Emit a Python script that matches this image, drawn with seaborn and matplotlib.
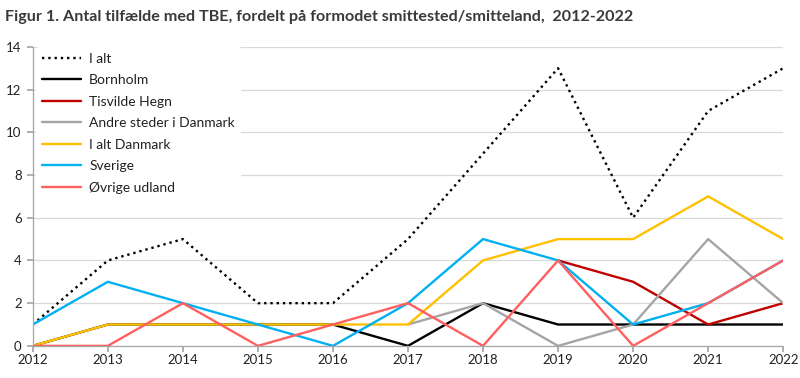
import numpy as np
import pandas as pd
import matplotlib
matplotlib.use("Agg")
import matplotlib.pyplot as plt
import seaborn as sns

years = list(range(2012, 2023))
i_alt = [1, 4, 5, 2, 2, 5, 9, 13, 6, 11, 13]
bornholm = [0, 1, 1, 1, 1, 0, 2, 1, 1, 1, 1]
tisvilde = [np.nan] * 7 + [4, 3, 1, 2]
andre = [np.nan] * 5 + [1, 2, 0, 1, 5, 2]
i_alt_dk = [0, 1, 1, 1, 1, 1, 4, 5, 5, 7, 5]
sverige = [1, 3, 2, 1, 0, 2, 5, 4, 1, 2, 4]
oevrige = [0, 0, 2, 0, 1, 2, 0, 4, 0, 2, 4]

series = [
    ("I alt", i_alt, "black", ":"),
    ("Bornholm", bornholm, "black", "-"),
    ("Tisvilde Hegn", tisvilde, "#C00000", "-"),
    ("Andre steder i Danmark", andre, "#A5A5A5", "-"),
    ("I alt Danmark", i_alt_dk, "#FFC000", "-"),
    ("Sverige", sverige, "#00B0F0", "-"),
    ("Øvrige udland", oevrige, "#FF5F5F", "-"),
]

sns.set_theme(style="white")
plt.rcParams['font.family'] = ['Lato', 'DejaVu Sans']

fig = plt.figure(figsize=(8, 3.78), dpi=100)
ax = fig.add_axes([0.041, 0.085, 0.938, 0.791])

for name, vals, col, ls in series:
    df = pd.DataFrame({"year": years, "value": vals})
    sns.lineplot(data=df, x="year", y="value", ax=ax, color=col,
                 linestyle=ls, linewidth=1.7, label=name)

ax.set_xlim(2012, 2022)
ax.set_ylim(0, 14)
ax.set_xticks(years)
ax.set_yticks(range(0, 15, 2))
ax.set_xlabel("")
ax.set_ylabel("")
ax.yaxis.grid(True, color="#D9D9D9", linewidth=0.9)
ax.set_axisbelow(True)
for s in ["top", "right"]:
    ax.spines[s].set_visible(False)
for s in ["left", "bottom"]:
    ax.spines[s].set_color("#A6A6A6")
    ax.spines[s].set_linewidth(0.9)
ax.tick_params(axis="x", bottom=True, length=4, color="#A6A6A6",
               labelsize=9.5, pad=2, labelcolor="#222222")
ax.tick_params(axis="y", left=True, length=4, color="#A6A6A6",
               labelsize=9.5, pad=4, labelcolor="#222222")

leg = ax.legend(loc="upper left", frameon=True, fontsize=10,
                handlelength=2.8, handletextpad=0.6, borderaxespad=0.25,
                labelspacing=0.68, bbox_to_anchor=(0.0, 1.01))
leg.get_frame().set_facecolor("white")
leg.get_frame().set_edgecolor("white")
leg.get_frame().set_alpha(1)
for t in leg.get_texts():
    t.set_color("#222222")

fig.text(0.006, 0.955, "Figur 1. Antal tilfælde med TBE, fordelt på formodet smittested/smitteland,  2012-2022",
         fontsize=11.6, fontweight="bold", color="#3a3a3a", ha="left", va="center")

fig.savefig("out.png", dpi=100)
